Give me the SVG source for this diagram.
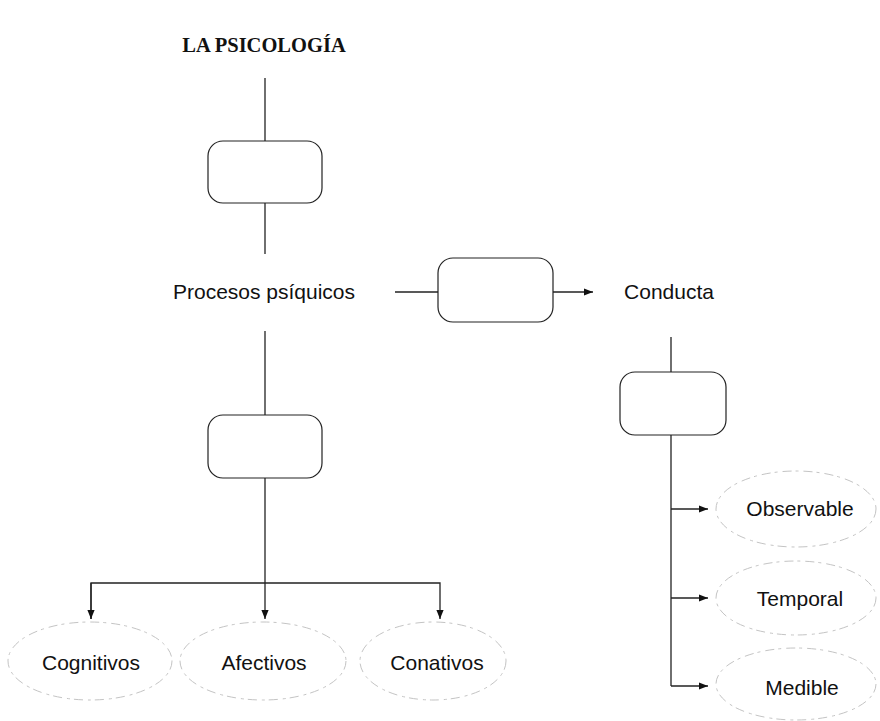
<svg xmlns="http://www.w3.org/2000/svg" width="880" height="721" viewBox="0 0 880 721">
<defs>
<marker id="ah" viewBox="0 0 10 10" refX="10" refY="5" markerWidth="10" markerHeight="9" markerUnits="userSpaceOnUse" orient="auto"><path d="M0,1 L10,5 L0,9 Z" fill="#111"/></marker>
<style>
.t{font-family:"Liberation Sans","Open Sans",sans-serif;font-size:21px;fill:#111;text-anchor:middle}
.title{font-family:"Liberation Serif",serif;font-weight:bold;font-size:20.5px;fill:#111;text-anchor:middle}
.box{fill:#fff;stroke:#222;stroke-width:1.2}
.ell{fill:none;stroke:#c4c4c4;stroke-width:1;stroke-dasharray:9 4 3 5}
.ln{fill:none;stroke:#222;stroke-width:1.3}
</style>
</defs>
<rect width="880" height="721" fill="#fff"/>
<g id="connectors">
<path class="ln" d="M265,78 V141"/>
<path class="ln" d="M265,203 V254"/>
<path class="ln" d="M395,292 H438"/>
<path class="ln" d="M553,292 H593" marker-end="url(#ah)"/>
<path class="ln" d="M671,337 V372"/>
<path class="ln" d="M671,435 V686"/>
<path class="ln" d="M671,509 H708" marker-end="url(#ah)"/>
<path class="ln" d="M671,598 H708" marker-end="url(#ah)"/>
<path class="ln" d="M671,686 H708" marker-end="url(#ah)"/>
<path class="ln" d="M265,331 V415"/>
<path class="ln" d="M265,478 V619" marker-end="url(#ah)"/>
<path class="ln" d="M91,619 V583 H440 V619" marker-end="url(#ah)"/>
<path class="ln" d="M91,583 V619" marker-end="url(#ah)"/>
</g>
<g id="title"><text class="title" x="264" y="52">LA PSICOLOGÍA</text></g>
<g id="box1"><rect class="box" x="208" y="141" width="114" height="62" rx="15"/></g>
<g id="procesos"><text class="t" x="264" y="299">Procesos psíquicos</text></g>
<g id="box2"><rect class="box" x="438" y="258" width="115" height="64" rx="15"/></g>
<g id="conducta"><text class="t" x="669" y="299">Conducta</text></g>
<g id="box3"><rect class="box" x="620" y="372" width="106" height="63" rx="15"/></g>
<g id="box4"><rect class="box" x="208" y="415" width="114" height="63" rx="15"/></g>
<g id="observable"><ellipse class="ell" cx="796" cy="509" rx="80" ry="38"/><text class="t" x="800" y="516">Observable</text></g>
<g id="temporal"><ellipse class="ell" cx="796" cy="598" rx="80" ry="37"/><text class="t" x="800" y="606">Temporal</text></g>
<g id="medible"><ellipse class="ell" cx="796" cy="684" rx="80" ry="36"/><text class="t" x="802" y="695">Medible</text></g>
<g id="cognitivos"><ellipse class="ell" cx="90" cy="661" rx="82" ry="39"/><text class="t" x="91" y="670">Cognitivos</text></g>
<g id="afectivos"><ellipse class="ell" cx="263" cy="661" rx="83" ry="39"/><text class="t" x="264" y="670">Afectivos</text></g>
<g id="conativos"><ellipse class="ell" cx="433" cy="661" rx="73" ry="39"/><text class="t" x="437" y="670">Conativos</text></g>
</svg>
